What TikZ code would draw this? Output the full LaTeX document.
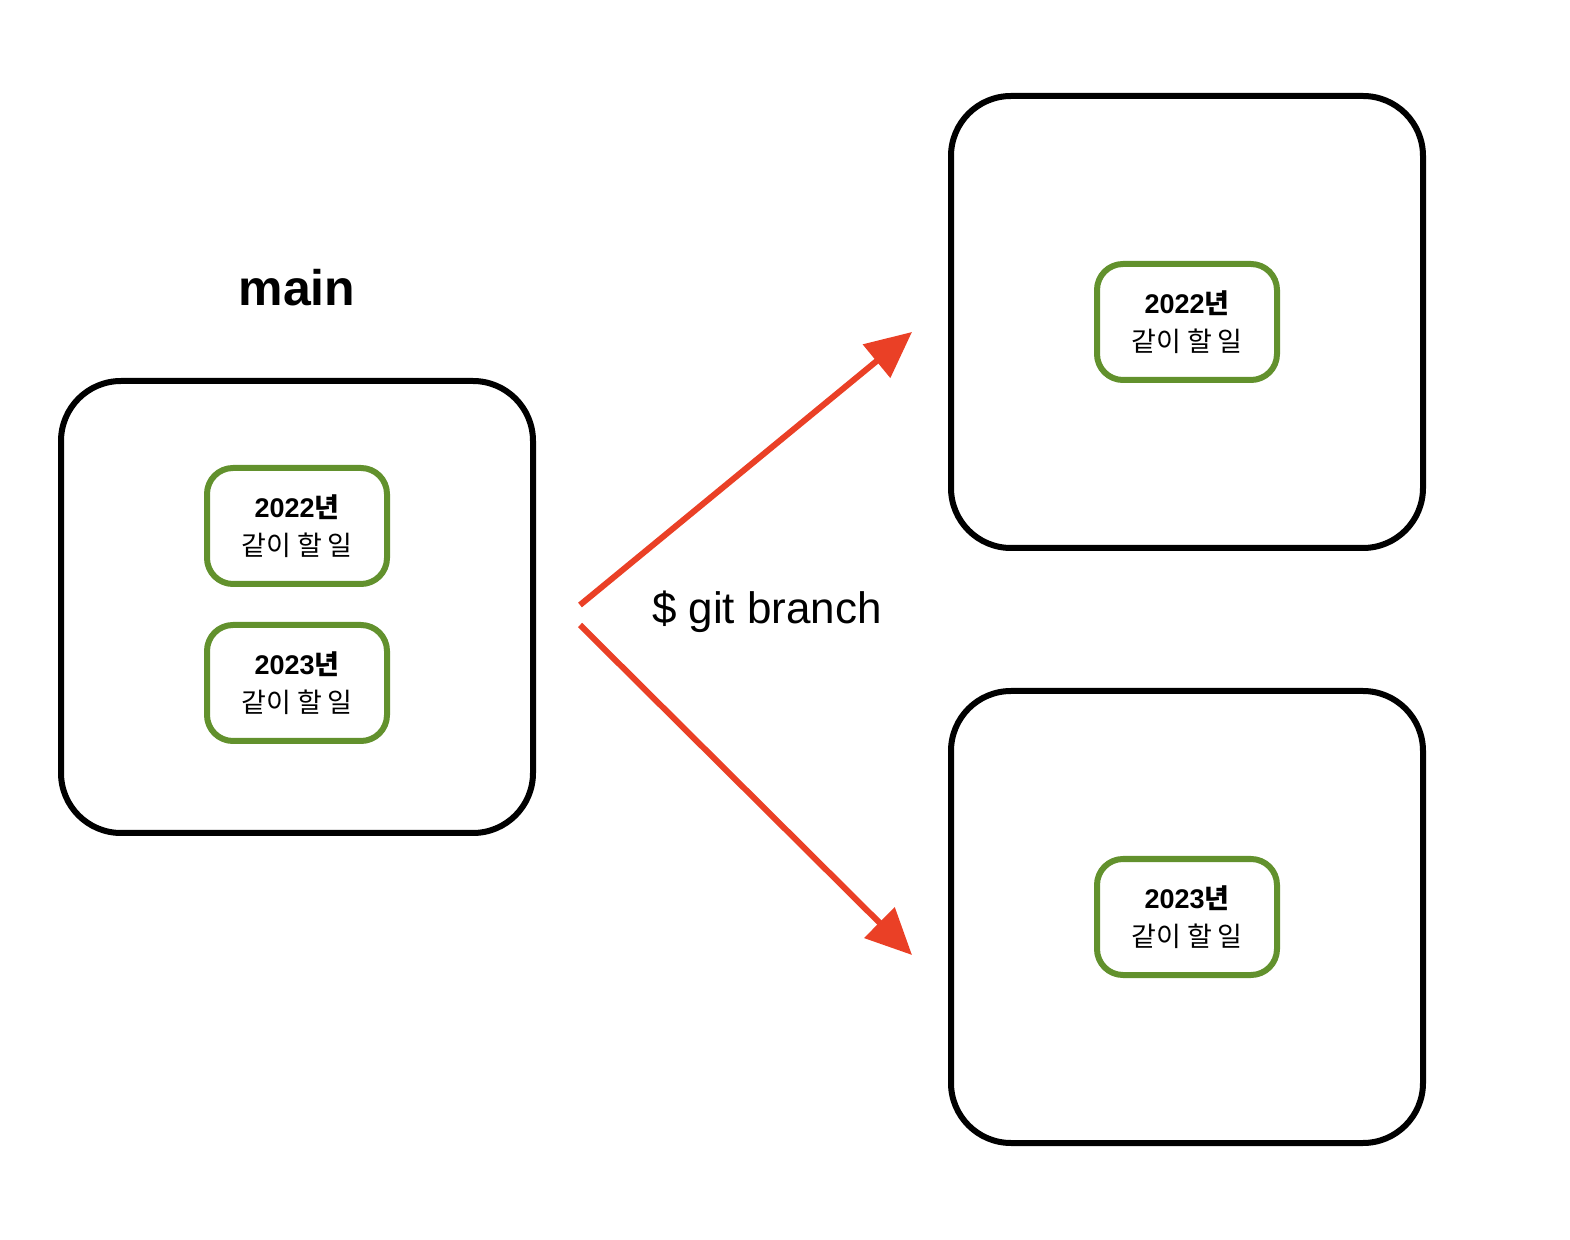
\documentclass[tikz,border=0pt]{standalone}
\usepackage{fontspec}
\setmainfont{Liberation Sans}
\newfontfamily\kr{Noto Sans CJK KR}
\usetikzlibrary{arrows.meta}
\definecolor{todogreen}{RGB}{98,145,45}
\definecolor{forkred}{RGB}{234,64,38}

\begin{document}
\begin{tikzpicture}[x=0.5pt,y=-0.5pt,
    repo/.style={draw=black,line width=3pt,rounded corners=30pt,minimum width=236pt,minimum height=226pt},
    todo/.style={draw=todogreen,line width=3pt,rounded corners=13pt,minimum width=90pt,minimum height=58pt,
        align=center,font=\fontsize{13.5}{19}\selectfont},
    fork/.style={draw=forkred,line width=3pt,-{Triangle[length=23pt,width=21pt]}}]
    \useasboundingbox (0,0) rectangle (1570,1240);
    \node[repo] (main) at (297,607) {};
    \node[font=\bfseries\fontsize{25}{30}\selectfont] (mainlabel) at (297,288) {main};
    \node[todo] (main22) at (297,526) {\textbf{2022\kr 년}\\{\kr 같이 할 일}};
    \node[todo] (main23) at (297,683) {\textbf{2023\kr 년}\\{\kr 같이 할 일}};
    \node[repo] (branch22) at (1187,322) {};
    \node[todo] (todo22) at (1187,322) {\textbf{2022\kr 년}\\{\kr 같이 할 일}};
    \node[repo] (branch23) at (1187,917) {};
    \node[todo] (todo23) at (1187,917) {\textbf{2023\kr 년}\\{\kr 같이 할 일}};
    \coordinate (up) at (580,605);
    \coordinate (down) at (580,625);
    \coordinate (tip22) at (912,332);
    \coordinate (tip23) at (912,955);
    \draw[fork] (up) -- (tip22);
    \draw[fork] (down) -- (tip23);
    \node[anchor=west,font=\fontsize{22}{26}\selectfont] (cmd) at (645,612) {\$ git branch};
\end{tikzpicture}
\end{document}
